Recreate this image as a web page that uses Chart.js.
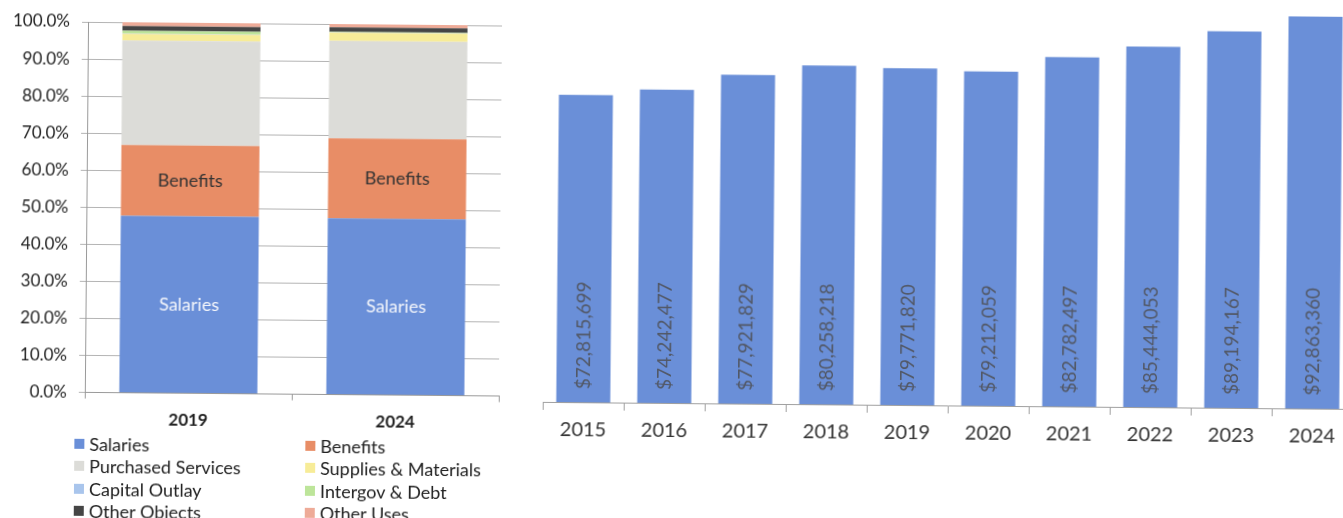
<!DOCTYPE html>
<html>
<head>
<meta charset="utf-8">
<script src="https://cdn.jsdelivr.net/npm/chart.js@4/dist/chart.umd.min.js"></script>
<style>
  html, body { margin: 0; padding: 0; background: #fff; }
  body { width: 1343px; height: 518px; position: relative; overflow: hidden; font-family: Lato, "Noto Sans", sans-serif; }
  /* the printed page sits very slightly askew */
  #page { position: absolute; left: 0; top: 0; width: 1343px; height: 518px; transform: rotate(0.5deg); transform-origin: 671.5px 259px; }
  #mixWrap { position: absolute; left: 0; top: 0; width: 505px; height: 440px; }
  #trendWrap { position: absolute; left: 530px; top: -19px; width: 840px; height: 500px; }
  #legend { position: absolute; left: 0; top: 0; width: 520px; height: 540px; pointer-events: none; }
  .lg-item { position: absolute; display: flex; align-items: center; font-size: 18px; color: #222; white-space: nowrap; line-height: 20px; }
  .lg-box { width: 10px; height: 10px; margin-right: 5px; }
</style>
</head>
<body>
<div id="page">
  <div id="mixWrap"><canvas id="mix"></canvas></div>
  <div id="trendWrap"><canvas id="trend"></canvas></div>
  <div id="legend"></div>
</div>
<script>
// Spending mix by object (percent of total), 2019 vs 2024
const mixYears = ['2019', '2024'];
const salaries = [47.8, 47.6];
const benefits = [19.1, 21.6];
const purchasedServices = [28.2, 26.3];
const suppliesMaterials = [1.8, 2.2];
const capitalOutlay = [0.1, 0.1];
const intergovDebt = [0.7, 0.1];
const otherObjects = [1.3, 1.2];
const otherUses = [1.0, 0.9];
const mixTicks = [0, 10, 20, 30, 40, 50, 60, 70, 80, 90, 100];

// Total expenditures by year
const trendYears = ['2015', '2016', '2017', '2018', '2019', '2020', '2021', '2022', '2023', '2024'];
const trendTotals = [72815699, 74242477, 77921829, 80258218, 79771820, 79212059, 82782497, 85444053, 89194167, 92863360];

const FONT = 'Lato';
const series = [
  { label: 'Salaries', data: salaries, color: '#6a8fd8' },
  { label: 'Benefits', data: benefits, color: '#e88d66' },
  { label: 'Purchased Services', data: purchasedServices, color: '#dcdcd8' },
  { label: 'Supplies & Materials', data: suppliesMaterials, color: '#f7ec98' },
  { label: 'Capital Outlay', data: capitalOutlay, color: '#a9c5ec' },
  { label: 'Intergov & Debt', data: intergovDebt, color: '#bde59a' },
  { label: 'Other Objects', data: otherObjects, color: '#454545' },
  { label: 'Other Uses', data: otherUses, color: '#eeab98' }
];

// Series names written inside the two largest segments
const segmentLabels = {
  id: 'segmentLabels',
  afterDatasetsDraw(chart) {
    const ctx = chart.ctx;
    const styles = { 0: '#f4f6fb', 1: '#333333' };
    ctx.save();
    ctx.font = '18px ' + FONT;
    ctx.textAlign = 'center';
    ctx.textBaseline = 'middle';
    Object.keys(styles).forEach(i => {
      const meta = chart.getDatasetMeta(+i);
      ctx.fillStyle = styles[i];
      meta.data.forEach(bar => {
        ctx.fillText(chart.data.datasets[i].label, bar.x, (bar.y + bar.base) / 2);
      });
    });
    ctx.restore();
  }
};

new Chart(document.getElementById('mix'), {
  type: 'bar',
  data: {
    labels: mixYears,
    datasets: series.map(s => ({
      label: s.label, data: s.data, backgroundColor: s.color,
      barPercentage: 0.667, categoryPercentage: 1, borderWidth: 0
    }))
  },
  options: {
    responsive: true, maintainAspectRatio: false, animation: false,
    layout: { padding: { top: 27, right: 5, left: 0, bottom: 0 } },
    plugins: { legend: { display: false }, tooltip: { enabled: false } },
    scales: {
      x: {
        stacked: true,
        afterFit(s) { s.height = 42.4; },
        border: { color: '#9a9a9a' },
        grid: { offset: true, drawOnChartArea: false, tickLength: 6, color: '#9a9a9a' },
        ticks: { font: { family: FONT, size: 17, weight: 'bold' }, color: '#222', padding: 11 }
      },
      y: {
        stacked: true, min: 0, max: 100,
        afterFit(s) { s.width = 86; },
        afterBuildTicks(s) { s.ticks = mixTicks.map(v => ({ value: v })); },
        border: { color: '#9a9a9a' },
        grid: { color: '#b4b4b4', tickLength: 6 },
        ticks: {
          font: { family: FONT, size: 17 }, color: '#222', padding: 12,
          callback: v => v.toFixed(1) + '%'
        }
      }
    }
  },
  plugins: [segmentLabels]
});

// Two-column legend beneath the mix chart
const legendEl = document.getElementById('legend');
const colX = [76, 307];
const rowY = [448.5, 471, 493.5, 515.5];
series.forEach((s, i) => {
  const item = document.createElement('div');
  item.className = 'lg-item';
  item.style.left = colX[i % 2] + 'px';
  item.style.top = (rowY[Math.floor(i / 2)] - 10) + 'px';
  const box = document.createElement('span');
  box.className = 'lg-box';
  box.style.background = s.color;
  item.appendChild(box);
  item.appendChild(document.createTextNode(s.label));
  legendEl.appendChild(item);
});

// Dollar totals written vertically inside each bar, reading upward from the base
const totalLabels = {
  id: 'totalLabels',
  afterDatasetsDraw(chart) {
    const ctx = chart.ctx;
    const meta = chart.getDatasetMeta(0);
    ctx.save();
    ctx.font = '19px ' + FONT;
    ctx.fillStyle = '#525866';
    ctx.textAlign = 'left';
    ctx.textBaseline = 'middle';
    meta.data.forEach((bar, i) => {
      ctx.save();
      ctx.translate(bar.x, bar.base - 13);
      ctx.rotate(-Math.PI / 2);
      ctx.fillText('$' + trendTotals[i].toLocaleString('en-US'), 0, 0);
      ctx.restore();
    });
    ctx.restore();
  }
};

new Chart(document.getElementById('trend'), {
  type: 'bar',
  data: {
    labels: trendYears,
    datasets: [{
      label: 'Total', data: trendTotals, backgroundColor: '#6a8fd8',
      barPercentage: 0.667, categoryPercentage: 1, borderWidth: 0
    }]
  },
  options: {
    responsive: true, maintainAspectRatio: false, animation: false,
    layout: { padding: { top: 0, right: 16, left: 14, bottom: 0 } },
    plugins: { legend: { display: false }, tooltip: { enabled: false } },
    scales: {
      x: {
        afterFit(s) { s.height = 78; },
        border: { color: '#a0a0a0' },
        grid: { offset: true, drawOnChartArea: false, tickLength: 8, color: '#a0a0a0' },
        ticks: { font: { family: FONT, size: 20 }, color: '#333', padding: 8 }
      },
      y: { display: false, min: 0, max: 100000000 }
    }
  },
  plugins: [totalLabels]
});
</script>
</body>
</html>
